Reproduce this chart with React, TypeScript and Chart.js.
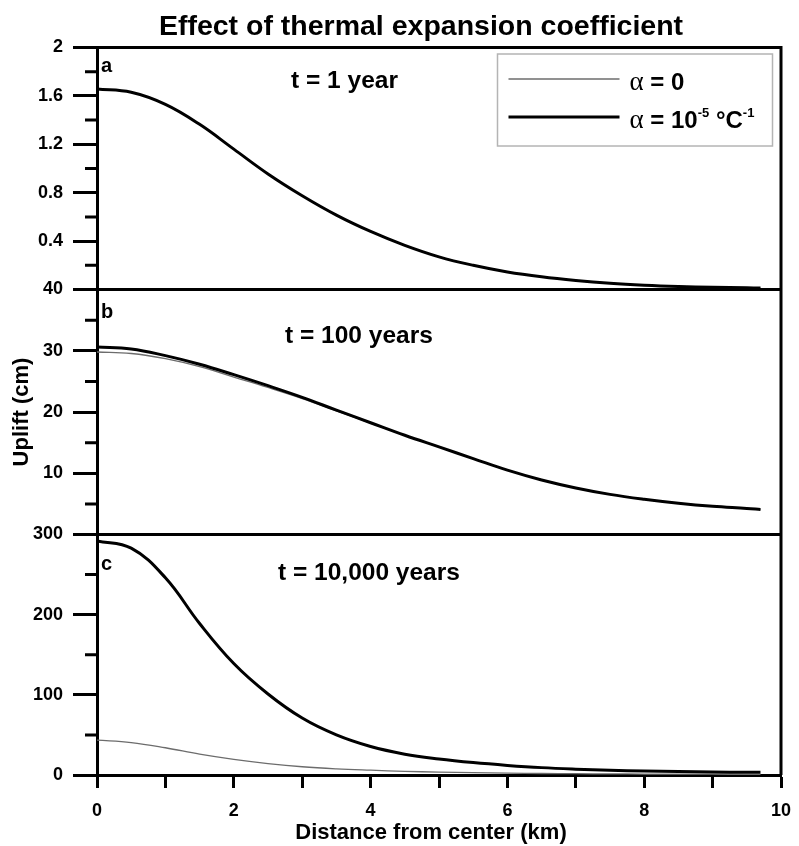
import React, { useEffect, useRef } from "react";
import { Chart, registerables } from "chart.js";

Chart.register(...registerables);

// Radial distance from the centre of the heated region (km)
const distanceKm = [0, 0.5, 1, 1.5, 2, 2.5, 3, 3.5, 4, 4.5, 5, 5.5, 6, 6.5, 7, 7.5, 8, 8.5, 9, 9.5, 9.7];

// Surface uplift (cm) after 1 year
const upliftYear1Alpha0 = [1.657, 1.63, 1.53, 1.365, 1.16, 0.955, 0.775, 0.615, 0.48, 0.365, 0.27, 0.2, 0.145, 0.105, 0.075, 0.052, 0.036, 0.025, 0.018, 0.014, 0.012];
const upliftYear1Alpha5 = [1.657, 1.63, 1.53, 1.365, 1.16, 0.955, 0.775, 0.615, 0.48, 0.365, 0.27, 0.2, 0.145, 0.105, 0.075, 0.052, 0.036, 0.025, 0.018, 0.014, 0.012];

// Surface uplift (cm) after 100 years
const upliftYear100Alpha0 = [29.8, 29.55, 28.7, 27.4, 25.7, 24.0, 22.2, 20.2, 18.2, 16.2, 14.3, 12.4, 10.5, 8.9, 7.6, 6.55, 5.75, 5.1, 4.6, 4.25, 4.08];
const upliftYear100Alpha5 = [30.6, 30.3, 29.2, 27.8, 26.1, 24.3, 22.4, 20.3, 18.25, 16.2, 14.3, 12.4, 10.5, 8.9, 7.6, 6.55, 5.75, 5.1, 4.6, 4.25, 4.08];

// Surface uplift (cm) after 10,000 years
const upliftYear10kAlpha0 = [43.5, 40.5, 34, 26, 19.5, 14.3, 10.3, 7.7, 6, 4.6, 3.6, 2.9, 2.3, 1.9, 1.6, 1.4, 1.2, 1.1, 1.0, 0.9, 0.9];
const upliftYear10kAlpha5 = [292, 283, 246, 189, 139, 101, 71, 50, 35.5, 26, 20, 15.5, 12, 9.2, 7.3, 5.9, 5, 4.3, 3.8, 3.4, 3.3];

// Labelled ticks
const xTickLabels = [0, 2, 4, 6, 8, 10];
const yTickLabelsA = [0.4, 0.8, 1.2, 1.6, 2];
const yTickLabelsB = [10, 20, 30, 40];
const yTickLabelsC = [0, 100, 200, 300];

const panelLetters = ["a", "b", "c"];
const panelTimes = ["t = 1 year", "t = 100 years", "t = 10,000 years"];
const legendLabels = ["α = 0", "α = 10-5 °C-1"];
const xAxisTitle = "Distance from center (km)";

const SANS = '"Liberation Sans", Arial, Helvetica, sans-serif';
const SERIF = '"Liberation Serif", "Times New Roman", serif';

const panels = [
  { id: "ya", max: 2, step: 0.2, major: 0.4, weight: 242, labels: yTickLabelsA, alpha0: upliftYear1Alpha0, alpha5: upliftYear1Alpha5 },
  { id: "yb", max: 40, step: 5, major: 10, weight: 245, labels: yTickLabelsB, alpha0: upliftYear100Alpha0, alpha5: upliftYear100Alpha5 },
  { id: "yc", max: 300, step: 50, major: 100, weight: 240.5, labels: yTickLabelsC, alpha0: upliftYear10kAlpha0, alpha5: upliftYear10kAlpha5 },
];

const isMultiple = (v: number, m: number) => Math.abs(v / m - Math.round(v / m)) < 1e-6;
const inList = (v: number, list: number[]) => list.some((l) => Math.abs(l - v) < 1e-9);

const THIN_COLOR = "#6c6c6c";
const THICK_COLOR = "#000000";

// Frame, minor ticks, panel captions, titles and legend
const decorations = {
  id: "decorations",
  afterDraw(chart: any) {
    const { ctx, chartArea: ca, scales } = chart;
    ctx.save();
    ctx.strokeStyle = "#000";
    ctx.lineWidth = 3;
    ctx.lineCap = "butt";

    // top and right edges
    ctx.beginPath();
    ctx.moveTo(ca.left, ca.top);
    ctx.lineTo(ca.right, ca.top);
    ctx.moveTo(ca.right, ca.top - 1.5);
    ctx.lineTo(ca.right, ca.bottom);
    ctx.stroke();

    // panel dividers and minor ticks
    panels.forEach((p) => {
      const s = scales[p.id];
      if (s.top > ca.top + 1) {
        ctx.beginPath();
        ctx.moveTo(ca.left, s.top);
        ctx.lineTo(ca.right, s.top);
        ctx.stroke();
      }
      ctx.beginPath();
      s.ticks.forEach((t: any) => {
        if (!isMultiple(t.value, p.major)) {
          const y = s.getPixelForValue(t.value);
          ctx.moveTo(s.right - 12, y);
          ctx.lineTo(s.right, y);
        }
      });
      ctx.stroke();
    });

    // panel captions
    const letterOffsets = [24.5, 28.5, 35.5];
    const timeOffsets = [40.5, 53.5, 45];
    const timeLeft = [194, 188, 181];
    ctx.fillStyle = "#000";
    ctx.textBaseline = "alphabetic";
    ctx.textAlign = "left";
    panels.forEach((p, i) => {
      const s = scales[p.id];
      ctx.font = `bold 20px ${SANS}`;
      ctx.fillText(panelLetters[i], ca.left + 4, s.top + letterOffsets[i]);
      ctx.font = `bold 24.5px ${SANS}`;
      ctx.fillText(panelTimes[i], ca.left + timeLeft[i], s.top + timeOffsets[i]);
    });

    // chart title
    ctx.font = `bold 28.5px ${SANS}`;
    ctx.textAlign = "center";
    ctx.fillText("Effect of thermal expansion coefficient", (ca.left + ca.right) / 2 - 18, ca.top - 12.5);

    // x-axis title
    ctx.font = `bold 22px ${SANS}`;
    ctx.textBaseline = "middle";
    ctx.fillText(xAxisTitle, (ca.left + ca.right) / 2 - 8, scales.x.bottom - 13);
    ctx.textBaseline = "alphabetic";

    // legend
    const boxW = 275;
    const boxH = 92;
    const bx = ca.right - 8.5 - boxW;
    const by = ca.top + 6.5;
    ctx.fillStyle = "#fff";
    ctx.fillRect(bx, by, boxW, boxH);
    ctx.strokeStyle = "#b4b4b4";
    ctx.lineWidth = 1.5;
    ctx.strokeRect(bx, by, boxW, boxH);

    const ds = chart.data.datasets;
    const thin = ds.find((d: any) => d.label === legendLabels[0]);
    const thick = ds.find((d: any) => d.label === legendLabels[1]);
    const rows = [
      { y: by + 25, d: thin },
      { y: by + 63, d: thick },
    ];
    rows.forEach((r) => {
      ctx.strokeStyle = r.d.borderColor;
      ctx.lineWidth = r.d.borderWidth;
      ctx.beginPath();
      ctx.moveTo(bx + 11, r.y);
      ctx.lineTo(bx + 122, r.y);
      ctx.stroke();
    });

    ctx.fillStyle = "#000";
    ctx.textAlign = "left";
    const drawRun = (parts: { t: string; f: string; dy?: number }[], x: number, y: number) => {
      let cx = x;
      parts.forEach((pt) => {
        ctx.font = pt.f;
        ctx.fillText(pt.t, cx, y - (pt.dy || 0));
        cx += ctx.measureText(pt.t).width;
      });
    };
    const alphaFont = `27px ${SERIF}`;
    const mainFont = `bold 24px ${SANS}`;
    const supFont = `bold 13px ${SANS}`;
    drawRun(
      [
        { t: "α", f: alphaFont },
        { t: " = 0", f: mainFont },
      ],
      bx + 132,
      rows[0].y + 10.5
    );
    drawRun(
      [
        { t: "α", f: alphaFont },
        { t: " = 10", f: mainFont },
        { t: "-5", f: supFont, dy: 11 },
        { t: " °C", f: mainFont },
        { t: "-1", f: supFont, dy: 11 },
      ],
      bx + 132,
      rows[1].y + 10.5
    );
    ctx.restore();
  },
};

export default function App() {
  const canvasRef = useRef<HTMLCanvasElement | null>(null);

  useEffect(() => {
    const canvas = canvasRef.current;
    if (!canvas) return;

    const toPoints = (ys: number[]) => distanceKm.map((x, i) => ({ x, y: ys[i] }));

    const datasets: any[] = [];
    panels.forEach((p) => {
      datasets.push({
        label: legendLabels[1],
        data: toPoints(p.alpha5),
        yAxisID: p.id,
        borderColor: THICK_COLOR,
        borderWidth: 3,
        order: 0,
        pointRadius: 0,
        fill: false,
        tension: 0.4,
      });
      datasets.push({
        label: legendLabels[0],
        data: toPoints(p.alpha0),
        yAxisID: p.id,
        borderColor: THIN_COLOR,
        borderWidth: 1.3,
        order: 1,
        pointRadius: 0,
        fill: false,
        tension: 0.4,
      });
    });

    const tickFont = { family: SANS, size: 18, weight: "bold" as const };

    const scales: any = {
      x: {
        type: "linear",
        min: 0,
        max: 10,
        ticks: {
          stepSize: 1,
          autoSkip: false,
          maxRotation: 0,
          padding: 12,
          color: "#000",
          font: tickFont,
          callback: (v: any) => (inList(Number(v), xTickLabels) ? String(v) : ""),
        },
        grid: { drawOnChartArea: false, tickLength: 13, tickWidth: 3, tickColor: "#000" },
        border: { display: true, width: 3, color: "#000" },
        title: { display: false },
        afterFit: (s: any) => {
          s.height = 71;
          // the end labels may overhang the plot edges; let the layout padding decide
          s.paddingLeft = 0;
          s.paddingRight = 0;
        },
      },
    };

    panels.forEach((p, i) => {
      scales[p.id] = {
        type: "linear",
        axis: "y",
        position: "left",
        stack: "panels",
        stackWeight: p.weight,
        weight: panels.length - i,
        min: 0,
        max: p.max,
        ticks: {
          stepSize: p.step,
          autoSkip: false,
          padding: 10,
          color: "#000",
          font: tickFont,
          callback: (v: any) => (inList(Number(v), p.labels) ? String(v) : ""),
        },
        grid: {
          drawOnChartArea: false,
          tickLength: 24,
          tickWidth: 3,
          tickColor: (c: any) => (c.tick && isMultiple(c.tick.value, p.major) ? "#000" : "rgba(0,0,0,0)"),
        },
        border: { display: true, width: 3, color: "#000" },
        title: {
          display: p.id === "yb",
          text: "Uplift (cm)",
          color: "#000",
          font: { family: SANS, size: 22, weight: "bold" },
          padding: { top: 8.5, bottom: 0 },
        },
        afterFit: (s: any) => {
          s.width = 97;
        },
      };
    });

    const chart = new Chart(canvas, {
      type: "line",
      data: { datasets },
      options: {
        responsive: false,
        animation: false,
        layout: { padding: { top: 47.5, right: 18, left: 0, bottom: 0 } },
        plugins: { legend: { display: false }, tooltip: { enabled: false }, title: { display: false } },
        scales,
      },
      plugins: [decorations],
    });

    return () => chart.destroy();
  }, []);

  return (
    <div style={{ position: "absolute", left: 0, top: 0, width: 799, height: 846, background: "#fff" }}>
      <canvas ref={canvasRef} width={799} height={846} style={{ display: "block" }} />
    </div>
  );
}
